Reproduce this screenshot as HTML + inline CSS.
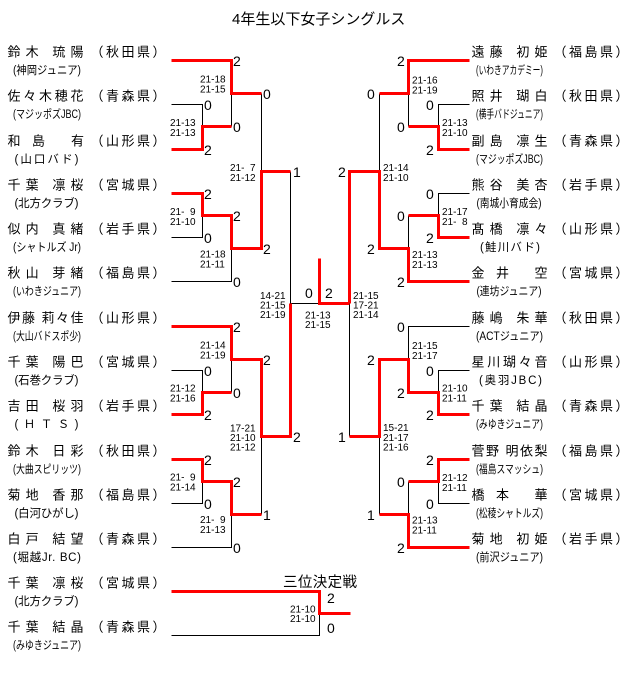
<!DOCTYPE html>
<html><head><meta charset="utf-8"><style>
html,body{margin:0;padding:0;background:#fff;}
svg{display:block;}
text{fill:#000;}
.n{font-size:13px;}
.s{font-size:11.5px;}
.d{font-size:14px;}
.c{font-size:10px;}
</style></head><body>
<svg xmlns="http://www.w3.org/2000/svg" width="640" height="697" viewBox="0 0 640 697" font-family="'Liberation Sans','Noto Sans CJK JP',sans-serif">
<rect width="640" height="697" fill="#fff"/>
<text x="232" y="24" font-size="15">4年生以下女子シングルス</text>

<g transform="translate(0.5,0.5)" fill="none" stroke="#000" stroke-width="1">
<path d="M171,104H202V126M231,93V126M261,93V171M171,237H202V215M171,281H231V248M290,171V303M171,370H202V392M231,359V392M171,503H202V481M171,547H231V514M261,436V514M290,303H319"/>
<path d="M469,104H438V126M408,93V126M379,93V171M469,193H438V215M408,215V248M469,326H408V359M469,370H438V392M469,503H438V481M408,481V514M379,436V514M349,303V436"/>
<path d="M171,635H319V613"/>
</g>

<g transform="translate(0.5,0.5)" fill="none" stroke="#ff0000" stroke-width="3" stroke-linejoin="miter">
<path d="M171,60H231V93H261"/>
<path d="M171,149H202V126H231"/>
<path d="M171,193H202V215H231V248H261V171H290"/>
<path d="M171,326H231V359H261V436H290V303"/>
<path d="M171,414H202V392H231"/>
<path d="M171,459H202V481H231V514H261"/>
<path d="M319,258V303H349"/>
<path d="M469,60H408V93H379"/>
<path d="M469,149H438V126H408"/>
<path d="M469,237H438V215H408"/>
<path d="M469,281H408V248H379V171H349V303"/>
<path d="M469,414H438V392H408V359H379V436H349"/>
<path d="M469,459H438V481H408"/>
<path d="M469,547H408V514H379"/>
<path d="M171,591H319V613H350"/>
</g>

<!-- Left names -->
<g class="n">
<text x="7.5" y="56.5" textLength="76" lengthAdjust="spacing">鈴木 琉陽</text>
<text x="7.5" y="100.5" textLength="76" lengthAdjust="spacing">佐々木穂花</text>
<text y="145.5"><tspan x="7.5">和</tspan><tspan x="32">島</tspan><tspan x="71">有</tspan></text>
<text x="7.5" y="189.5" textLength="76" lengthAdjust="spacing">千葉 凛桜</text>
<text x="7.5" y="233.5" textLength="76" lengthAdjust="spacing">似内 真緒</text>
<text x="7.5" y="277.5" textLength="76" lengthAdjust="spacing">秋山 芽緒</text>
<text x="7.5" y="322.5" textLength="76" lengthAdjust="spacing">伊藤 莉々佳</text>
<text x="7.5" y="366.5" textLength="76" lengthAdjust="spacing">千葉 陽巴</text>
<text x="7.5" y="410.5" textLength="76" lengthAdjust="spacing">吉田 桜羽</text>
<text x="7.5" y="455.5" textLength="76" lengthAdjust="spacing">鈴木 日彩</text>
<text x="7.5" y="499.5" textLength="76" lengthAdjust="spacing">菊地 香那</text>
<text x="7.5" y="543.5" textLength="76" lengthAdjust="spacing">白戸 結望</text>
<text x="7.5" y="587.5" textLength="76" lengthAdjust="spacing">千葉 凛桜</text>
<text x="7.5" y="631.5" textLength="76" lengthAdjust="spacing">千葉 結晶</text>

<text x="90.5" y="56.5" textLength="75" lengthAdjust="spacing">（秋田県）</text>
<text x="90.5" y="100.5" textLength="75" lengthAdjust="spacing">（青森県）</text>
<text x="90.5" y="145.5" textLength="75" lengthAdjust="spacing">（山形県）</text>
<text x="90.5" y="189.5" textLength="75" lengthAdjust="spacing">（宮城県）</text>
<text x="90.5" y="233.5" textLength="75" lengthAdjust="spacing">（岩手県）</text>
<text x="90.5" y="277.5" textLength="75" lengthAdjust="spacing">（福島県）</text>
<text x="90.5" y="322.5" textLength="75" lengthAdjust="spacing">（山形県）</text>
<text x="90.5" y="366.5" textLength="75" lengthAdjust="spacing">（宮城県）</text>
<text x="90.5" y="410.5" textLength="75" lengthAdjust="spacing">（岩手県）</text>
<text x="90.5" y="455.5" textLength="75" lengthAdjust="spacing">（秋田県）</text>
<text x="90.5" y="499.5" textLength="75" lengthAdjust="spacing">（福島県）</text>
<text x="90.5" y="543.5" textLength="75" lengthAdjust="spacing">（青森県）</text>
<text x="90.5" y="587.5" textLength="75" lengthAdjust="spacing">（宮城県）</text>
<text x="90.5" y="631.5" textLength="75" lengthAdjust="spacing">（青森県）</text>
</g>

<!-- Left sub-labels -->
<g class="s">
<text x="13" y="74" textLength="68" lengthAdjust="spacingAndGlyphs">(神岡ジュニア)</text>
<text x="13" y="118" textLength="68" lengthAdjust="spacingAndGlyphs">(マジッポズJBC)</text>
<text x="14.5" y="163" textLength="64" lengthAdjust="spacing">(山口バド)</text>
<text x="14.5" y="207" textLength="64" lengthAdjust="spacing">(北方クラブ)</text>
<text x="13" y="251" textLength="68" lengthAdjust="spacingAndGlyphs">(シャトルズ Jr)</text>
<text x="13" y="295" textLength="68" lengthAdjust="spacingAndGlyphs">(いわきジュニア)</text>
<text x="13" y="340" textLength="68" lengthAdjust="spacingAndGlyphs">(大山バドスポ少)</text>
<text x="14.5" y="384" textLength="64" lengthAdjust="spacing">(石巻クラブ)</text>
<text x="14.5" y="428" textLength="64" lengthAdjust="spacing">(ＨＴＳ)</text>
<text x="13" y="473" textLength="68" lengthAdjust="spacingAndGlyphs">(大曲スピリッツ)</text>
<text x="14.5" y="517" textLength="64" lengthAdjust="spacing">(白河ひがし)</text>
<text x="13" y="561" textLength="68" lengthAdjust="spacing">(堀越Jr. BC)</text>
<text x="14.5" y="605" textLength="64" lengthAdjust="spacing">(北方クラブ)</text>
<text x="13" y="649" textLength="68" lengthAdjust="spacingAndGlyphs">(みゆきジュニア)</text>
</g>

<!-- Right names -->
<g class="n">
<text x="471.5" y="56.5" textLength="76" lengthAdjust="spacing">遠藤 初姫</text>
<text x="471.5" y="100.5" textLength="76" lengthAdjust="spacing">照井 瑚白</text>
<text x="471.5" y="145.5" textLength="76" lengthAdjust="spacing">副島 凛生</text>
<text x="471.5" y="189.5" textLength="76" lengthAdjust="spacing">熊谷 美杏</text>
<text x="471.5" y="233.5" textLength="76" lengthAdjust="spacing">髙橋 凛々</text>
<text y="277.5"><tspan x="471.5">金</tspan><tspan x="496">井</tspan><tspan x="534.5">空</tspan></text>
<text x="471.5" y="322.5" textLength="76" lengthAdjust="spacing">藤嶋 朱華</text>
<text x="471.5" y="366.5" textLength="76" lengthAdjust="spacing">星川瑚々音</text>
<text x="471.5" y="410.5" textLength="76" lengthAdjust="spacing">千葉 結晶</text>
<text x="471.5" y="455.5" textLength="76" lengthAdjust="spacing">菅野 明依梨</text>
<text y="499.5"><tspan x="471.5">橋</tspan><tspan x="496">本</tspan><tspan x="534.5">華</tspan></text>
<text x="471.5" y="543.5" textLength="76" lengthAdjust="spacing">菊地 初姫</text>

<text x="553.5" y="56.5" textLength="75" lengthAdjust="spacing">（福島県）</text>
<text x="553.5" y="100.5" textLength="75" lengthAdjust="spacing">（秋田県）</text>
<text x="553.5" y="145.5" textLength="75" lengthAdjust="spacing">（青森県）</text>
<text x="553.5" y="189.5" textLength="75" lengthAdjust="spacing">（岩手県）</text>
<text x="553.5" y="233.5" textLength="75" lengthAdjust="spacing">（山形県）</text>
<text x="553.5" y="277.5" textLength="75" lengthAdjust="spacing">（宮城県）</text>
<text x="553.5" y="322.5" textLength="75" lengthAdjust="spacing">（秋田県）</text>
<text x="553.5" y="366.5" textLength="75" lengthAdjust="spacing">（山形県）</text>
<text x="553.5" y="410.5" textLength="75" lengthAdjust="spacing">（青森県）</text>
<text x="553.5" y="455.5" textLength="75" lengthAdjust="spacing">（福島県）</text>
<text x="553.5" y="499.5" textLength="75" lengthAdjust="spacing">（宮城県）</text>
<text x="553.5" y="543.5" textLength="75" lengthAdjust="spacing">（岩手県）</text>
</g>

<!-- Right sub-labels -->
<g class="s">
<text x="476" y="74" textLength="67" lengthAdjust="spacingAndGlyphs">(いわきアカデミー)</text>
<text x="476" y="118" textLength="67" lengthAdjust="spacingAndGlyphs">(横手バドジュニア)</text>
<text x="476" y="163" textLength="67" lengthAdjust="spacingAndGlyphs">(マジッポズJBC)</text>
<text x="476.5" y="207" textLength="65" lengthAdjust="spacingAndGlyphs">(南城小育成会)</text>
<text x="480" y="251" textLength="60" lengthAdjust="spacing">(鮭川バド)</text>
<text x="476.5" y="295" textLength="65" lengthAdjust="spacingAndGlyphs">(連坊ジュニア)</text>
<text x="476" y="340" textLength="67" lengthAdjust="spacingAndGlyphs">(ACTジュニア)</text>
<text x="479" y="384" textLength="63" lengthAdjust="spacing">(奥羽JBC)</text>
<text x="476" y="428" textLength="67" lengthAdjust="spacingAndGlyphs">(みゆきジュニア)</text>
<text x="476" y="473" textLength="67" lengthAdjust="spacingAndGlyphs">(福島スマッシュ)</text>
<text x="476" y="517" textLength="67" lengthAdjust="spacingAndGlyphs">(松稜シャトルズ)</text>
<text x="476" y="561" textLength="67" lengthAdjust="spacingAndGlyphs">(前沢ジュニア)</text>
</g>

<!-- Game counts -->
<g class="d">
<text x="233" y="66">2</text><text x="204" y="110">0</text><text x="204" y="155">2</text>
<text x="233" y="132">0</text><text x="263" y="99">0</text><text x="293" y="177">1</text>
<text x="204" y="199">2</text><text x="204" y="243">0</text><text x="233" y="221">2</text>
<text x="233" y="287">0</text><text x="263" y="254">2</text>
<text x="233" y="332">2</text><text x="204" y="376">0</text><text x="204" y="420">2</text>
<text x="233" y="398">0</text><text x="263" y="365">2</text><text x="293" y="442">2</text>
<text x="204" y="465">2</text><text x="204" y="509">0</text><text x="233" y="487">2</text>
<text x="233" y="553">0</text><text x="263" y="520">1</text>

<text x="397" y="66">2</text><text x="426" y="110">0</text><text x="426" y="155">2</text>
<text x="397" y="132">0</text><text x="367" y="99">0</text><text x="338" y="177">2</text>
<text x="426" y="199">0</text><text x="426" y="243">2</text><text x="397" y="221">0</text>
<text x="397" y="287">2</text><text x="367" y="254">2</text>
<text x="397" y="332">0</text><text x="426" y="376">0</text><text x="426" y="420">2</text>
<text x="397" y="398">2</text><text x="367" y="365">2</text><text x="338" y="442">1</text>
<text x="426" y="465">2</text><text x="426" y="509">0</text><text x="397" y="487">0</text>
<text x="397" y="553">2</text><text x="367" y="520">1</text>

<text x="305" y="298">0</text><text x="325" y="298">2</text>
<text x="327" y="603">2</text><text x="327" y="633">0</text>
</g>

<!-- Set scores -->
<g class="c">
<text x="200" y="82.5">21-18</text><text x="200" y="92.5">21-15</text>
<text x="170" y="126">21-13</text><text x="170" y="136">21-13</text>
<text x="230" y="171">21-<tspan dx="5.56">7</tspan></text><text x="230" y="181">21-12</text>
<text x="170" y="215">21-<tspan dx="5.56">9</tspan></text><text x="170" y="225">21-10</text>
<text x="200" y="257.5">21-18</text><text x="200" y="267.5">21-11</text>
<text x="260" y="299">14-21</text><text x="260" y="308.5">21-15</text><text x="260" y="318">21-19</text>
<text x="200" y="348.5">21-14</text><text x="200" y="358.5">21-19</text>
<text x="170" y="391.5">21-12</text><text x="170" y="401.5">21-16</text>
<text x="230" y="431.5">17-21</text><text x="230" y="441">21-10</text><text x="230" y="450.5">21-12</text>
<text x="170" y="480.5">21-<tspan dx="5.56">9</tspan></text><text x="170" y="490.5">21-14</text>
<text x="200" y="523">21-<tspan dx="5.56">9</tspan></text><text x="200" y="533">21-13</text>
<text x="305" y="318.5">21-13</text><text x="305" y="328">21-15</text>
<text x="290" y="612.5">21-10</text><text x="290" y="622">21-10</text>

<text x="412" y="83.5">21-16</text><text x="412" y="93.5">21-19</text>
<text x="442" y="126">21-13</text><text x="442" y="136">21-10</text>
<text x="383" y="171">21-14</text><text x="383" y="181">21-10</text>
<text x="442" y="215">21-17</text><text x="442" y="225">21-<tspan dx="5.56">8</tspan></text>
<text x="412" y="258">21-13</text><text x="412" y="268">21-13</text>
<text x="353" y="299">21-15</text><text x="353" y="308.5">17-21</text><text x="353" y="318">21-14</text>
<text x="412" y="349">21-15</text><text x="412" y="359">21-17</text>
<text x="442" y="391.5">21-10</text><text x="442" y="401.5">21-11</text>
<text x="383" y="431">15-21</text><text x="383" y="441">21-17</text><text x="383" y="450.5">21-16</text>
<text x="442" y="481">21-12</text><text x="442" y="491">21-11</text>
<text x="412" y="523.5">21-13</text><text x="412" y="533.5">21-11</text>
</g>

<text x="283" y="587" font-size="14.5" textLength="74" lengthAdjust="spacing">三位決定戦</text>
</svg>
</body></html>
